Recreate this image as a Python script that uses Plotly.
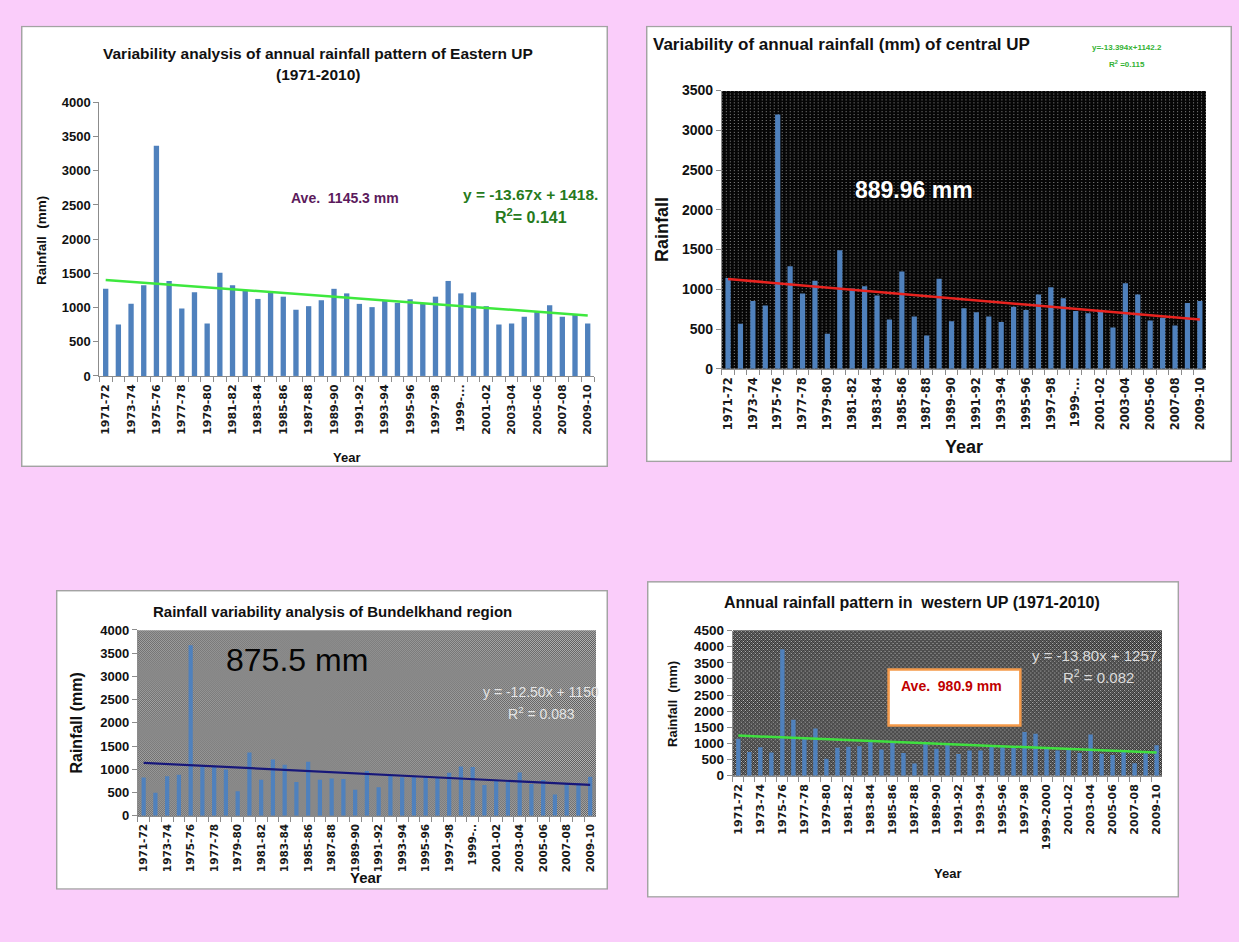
import base64
import plotly.graph_objects as go

W, H = 1239, 942

# ---------------------------------------------------------------- data
seasons = [
    "1971-72", "1972-73", "1973-74", "1974-75", "1975-76", "1976-77", "1977-78",
    "1978-79", "1979-80", "1980-81", "1981-82", "1982-83", "1983-84", "1984-85",
    "1985-86", "1986-87", "1987-88", "1988-89", "1989-90", "1990-91", "1991-92",
    "1992-93", "1993-94", "1994-95", "1995-96", "1996-97", "1997-98", "1998-99",
    "1999-2000", "2000-01", "2001-02", "2002-03", "2003-04", "2004-05", "2005-06",
    "2006-07", "2007-08", "2008-09", "2009-10",
]
# how the 1999-2000 season is printed on each axis
label_1999_long = "1999-2000"
label_1999_cut = "1999-..."
label_1999_cut2 = "1999-.."

eastern_rain = [1275, 752, 1054, 1327, 3365, 1390, 987, 1222, 766, 1509, 1327, 1245,
                1126, 1222, 1159, 968, 1020, 1107, 1274, 1207, 1054, 1006, 1095, 1068,
                1121, 1054, 1159, 1389, 1207, 1222, 1020, 752, 766, 867, 934, 1035,
                867, 896, 766]
central_rain = [1142, 565, 851, 797, 3200, 1291, 946, 1108, 440, 1490, 1009, 1038,
                922, 619, 1225, 656, 419, 1133, 598, 760, 710, 656, 589, 780, 739,
                934, 1025, 888, 726, 697, 726, 519, 1075, 934, 606, 643, 544, 826, 851]
bundel_rain = [822, 496, 850, 885, 3670, 1060, 1060, 995, 525, 1360, 775, 1210, 1100,
               728, 1160, 775, 800, 792, 558, 965, 615, 865, 830, 840, 840, 820, 925,
               1060, 1050, 660, 765, 725, 930, 684, 769, 459, 698, 698, 840]
western_rain = [1148, 735, 885, 720, 3920, 1735, 1160, 1465, 530, 870, 900, 910, 1047,
                810, 1025, 705, 380, 1035, 835, 1010, 670, 785, 785, 900, 910, 860,
                1355, 1300, 860, 785, 835, 708, 1275, 683, 640, 742, 386, 691, 945]

# linear trend coefficients (y = slope * n + intercept, n = 1..39)
eastern_trend = (-13.67, 1418.0)
central_trend = (-13.394, 1142.2)
bundel_trend = (-12.50, 1150.0)
western_trend = (-13.80, 1257.0)

# ---------------------------------------------------------------- helpers
def fx(x):
    return x / W


def fy(y):
    return 1 - y / H


def svg_uri(svg):
    return "data:image/svg+xml;base64," + base64.b64encode(svg.encode()).decode()


def panel_svg(w, h):
    return (f'<svg xmlns="http://www.w3.org/2000/svg" width="{w}" height="{h}" '
            f'viewBox="0 0 {w} {h}" preserveAspectRatio="none">'
            f'<rect x="0.75" y="0.75" width="{w-1.5}" height="{h-1.5}" fill="#ffffff" '
            f'stroke="#a3a3a3" stroke-width="1.5"/></svg>')


def pattern_svg(w, h, tile_w, tile_h, cells):
    body = "".join(f'<rect x="{x}" y="{y}" width="1" height="1" fill="{c}"/>'
                   for x, y, c in cells)
    return (f'<svg xmlns="http://www.w3.org/2000/svg" width="{w}" height="{h}" '
            f'viewBox="0 0 {w} {h}" preserveAspectRatio="none" shape-rendering="crispEdges">'
            f'<defs><pattern id="p" width="{tile_w}" height="{tile_h}" patternUnits="userSpaceOnUse">'
            f'{body}</pattern></defs><rect width="{w}" height="{h}" fill="url(#p)"/></svg>')


def place_image(svg, x0, y0, x1, y1):
    return dict(source=svg_uri(svg), xref="paper", yref="paper",
                x=fx(x0), y=fy(y0), sizex=(x1 - x0) / W, sizey=(y1 - y0) / H,
                xanchor="left", yanchor="top", sizing="stretch", layer="below")


# tile definitions for the textured plot areas
dots_black = [(x, y, "#060606") for x in range(4) for y in range(3)] + [(0, 0, "#8c8c8c")]
checker_grey = [(x, y, "#575757" if (x + y) % 2 == 0 else "#b9b9b9")
                for x in range(2) for y in range(2)]
checker_dark = [(x, y, "#1c1c1c" if (x + y) % 2 == 0 else "#7e7e7e")
                for x in range(4) for y in range(4)]
checker_dark = [c if (c[0], c[1]) not in [(0, 1), (2, 3)] else (c[0], c[1], "#e6e6e6")
                for c in checker_dark]

NARROW = "Liberation Sans Narrow, Liberation Sans, Arial"
SANS = "Liberation Sans, Arial"
DEJAVU = "DejaVu Sans, Liberation Sans"
BAR = "#4f81bd"

# ---------------------------------------------------------------- subplot specs
charts = [
    dict(values=eastern_rain, trend=eastern_trend, trend_color="#3ee83e", trend_w=2.5,
         box=(98.5, 96, 594, 374.3), ymax=4000, width=0.42, cut=label_1999_cut,
         ytick_size=13, xtick_size=11, line_color="#8c8c8c"),
    dict(values=central_rain, trend=central_trend, trend_color="#e8231f", trend_w=2.5,
         box=(722, 84, 1207, 367), ymax=3500, width=0.42, cut=label_1999_cut,
         ytick_size=14, xtick_size=11.5, line_color="#8c8c8c"),
    dict(values=bundel_rain, trend=bundel_trend, trend_color="#17177a", trend_w=2.2,
         box=(137, 632.7, 596, 821.7), ymax=4000, width=0.36, cut=label_1999_cut2,
         ytick_size=13, xtick_size=10.5, line_color="#8c8c8c"),
    dict(values=western_rain, trend=western_trend, trend_color="#3fe03f", trend_w=2.5,
         box=(733, 633.3, 1163, 781), ymax=4500, width=0.4, cut=label_1999_long,
         ytick_size=13.5, xtick_size=11, line_color="#8c8c8c"),
]

fig = go.Figure()
layout_axes = {}
for i, c in enumerate(charts):
    n = "" if i == 0 else str(i + 1)
    slope, icpt = c["trend"]
    fig.add_trace(go.Bar(x=seasons, y=c["values"], marker_color=BAR, width=c["width"],
                         marker_line_width=0, xaxis="x" + n, yaxis="y" + n,
                         showlegend=False, hoverinfo="x+y"))
    fig.add_trace(go.Scatter(x=[seasons[0], seasons[-1]],
                             y=[slope * 1 + icpt, slope * len(seasons) + icpt],
                             mode="lines", line=dict(color=c["trend_color"], width=c["trend_w"]),
                             xaxis="x" + n, yaxis="y" + n, showlegend=False, hoverinfo="skip"))
    ticktext = []
    for k, s in enumerate(seasons):
        if k % 2:
            ticktext.append("")
        elif s == "1999-2000":
            ticktext.append(c["cut"])
        else:
            ticktext.append(s)
    x0, y0, x1, y1 = c["box"]
    layout_axes["xaxis" + n] = dict(
        domain=[fx(x0), fx(x1)], anchor="y" + n, type="category", range=[-0.5, 38.5],
        tickmode="array", tickvals=seasons, ticktext=ticktext, tickangle=-90,
        ticks="outside", tickson="boundaries", ticklen=5, tickcolor=c["line_color"],
        showline=True, linecolor=c["line_color"], linewidth=1, showgrid=False,
        ticklabelstandoff=3,
        tickfont=dict(family=DEJAVU, size=c["xtick_size"], color="#1a1a1a", weight="bold"),
        fixedrange=True)
    layout_axes["yaxis" + n] = dict(
        domain=[fy(y1), fy(y0)], anchor="x" + n, range=[0, c["ymax"]], tick0=0, dtick=500,
        ticks="outside", ticklen=5, tickcolor=c["line_color"], showline=True,
        linecolor=c["line_color"], linewidth=1, showgrid=False, zeroline=False,
        tickfont=dict(family=SANS, size=c["ytick_size"], color="#111111", weight="bold"),
        fixedrange=True)

# ---------------------------------------------------------------- backgrounds
images = [
    place_image(panel_svg(588, 449), 20, 18, 608, 467),
    place_image(panel_svg(587, 444), 646, 18, 1233, 462),
    place_image(panel_svg(553, 305), 55, 592, 608, 897),
    place_image(panel_svg(533, 322), 647, 583, 1180, 905),
    place_image(pattern_svg(485, 283, 4, 3, dots_black), 722, 84, 1207, 367),
    place_image(pattern_svg(459, 189, 2, 2, checker_grey), 137, 633, 596, 822),
    place_image(pattern_svg(430, 148, 4, 4, checker_dark), 733, 633, 1163, 781),
]

# ---------------------------------------------------------------- text
def note(text, x, y, size, color="#111111", family=NARROW, bold=True, angle=0,
         xanchor="center", yanchor="middle", **kw):
    d = dict(text=text, x=fx(x), y=fy(y), xref="paper", yref="paper", showarrow=False,
             textangle=angle, xanchor=xanchor, yanchor=yanchor,
             font=dict(family=family, size=size, color=color,
                       weight="bold" if bold else "normal"))
    d.update(kw)
    return d


annotations = [
    # Eastern UP
    note("Variability analysis of annual rainfall pattern of Eastern UP", 318, 46, 15.5),
    note("(1971-2010)", 318, 68, 15.5),
    note("Rainfall  (mm)", 41, 236, 13.5, angle=-90),
    note("Year", 346, 457, 13),
    note("Ave.  1145.3 mm", 345, 193, 14, color="#5c1a5c"),
    note("y = -13.67x + 1418.", 530, 190, 15.5, color="#267a1c"),
    note("R<sup>2</sup>= 0.141", 531, 212, 16, color="#267a1c"),
    # Central UP
    note("Variability of annual rainfall (mm) of central UP", 651, 37, 17,
         xanchor="left"),
    note("y=-13.394x+1142.2", 1128, 40, 8, color="#33b233"),
    note("R<sup>2</sup> =0.115", 1128, 57, 8, color="#33b233"),
    note("Rainfall", 662, 225, 18, angle=-90),
    note("Year", 965, 447, 18),
    note("889.96 mm", 914, 185, 23, color="#ffffff", family=SANS),
    # Bundelkhand
    note("Rainfall variability analysis of Bundelkhand region", 332, 614, 15),
    note("Rainfall (mm)", 76, 727, 16, angle=-90),
    note("Year", 366, 885, 15),
    note("875.5 mm", 296, 663, 32, color="#050505", family=SANS, bold=False),
    note("y = -12.50x + 1150", 541, 696, 14, color="#e4e4e4", family=SANS, bold=False),
    note("R<sup>2</sup> = 0.083", 541, 717, 14, color="#e4e4e4", family=SANS, bold=False),
    # Western UP
    note("Annual rainfall pattern in  western UP (1971-2010)", 912, 605, 16),
    note("Rainfall  (mm)", 673, 708, 13, angle=-90),
    note("Year", 948, 880, 13),
    note("y = -13.80x + 1257.", 1097, 659, 15, color="#dcdcdc", family=SANS, bold=False),
    note("R<sup>2</sup> = 0.082", 1099, 680, 15, color="#dcdcdc", family=SANS, bold=False),
]

shapes = [
    dict(type="rect", xref="paper", yref="paper", x0=fx(889), x1=fx(1021),
         y0=fy(730), y1=fy(673), fillcolor="#ffffff",
         line=dict(color="#f59a4a", width=2.5), layer="above"),
]
annotations.append(note("Ave.  980.9 mm", 952, 690, 14, color="#c00000"))

fig.update_layout(
    width=W, height=H, margin=dict(l=0, r=0, t=0, b=0),
    paper_bgcolor="#facdfa", plot_bgcolor="rgba(0,0,0,0)",
    images=images, annotations=annotations, shapes=shapes,
    bargap=0.5, showlegend=False, **layout_axes,
)

fig.write_html("out.html")
